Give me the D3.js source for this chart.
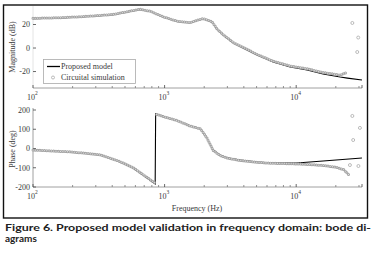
<!DOCTYPE html>
<html>
<head>
<meta charset="utf-8">
<script src="https://cdn.jsdelivr.net/npm/d3@7"></script>
<style>
  body { margin: 0; background: #fff; }
  svg { display: block; }
  .ax text { font-family: "Liberation Serif", serif; font-size: 8px; fill: #3a3a3a; }
</style>
</head>
<body>
<svg id="chart" width="379" height="254"></svg>
<script>
// magnitude plot (Hz, dB)
const freqMag = [100, 160, 228, 300, 406, 546, 652, 777, 975, 1245, 1563, 1963, 2298, 2500, 2786, 3320, 3950, 5050, 6680, 9000, 12100, 16000, 21600, 24500, 31600]
const magModel = [25, 25.5, 26.4, 27.3, 28.4, 31.2, 32.9, 31.2, 26.4, 22.7, 21.5, 25, 22, 16, 11, 4.3, 0, -6, -11.9, -16.2, -18.7, -22.1, -24.7, -25.6, -27.2]
const freqMagSim = [100, 160, 228, 300, 406, 546, 652, 777, 975, 1245, 1563, 1963, 2298, 2500, 2786, 3320, 3950, 5050, 6680, 9000, 12100, 16000, 21600, 24500]
const magSim = [25.3, 25.8, 26.6, 27.5, 28.6, 31.4, 33, 31.3, 26.6, 22.9, 21.7, 25.2, 22.3, 16.3, 11.4, 4.8, 0.6, -5.4, -11.2, -15.2, -17.6, -20.8, -23, -20.5]
const freqMagOut = [26700, 29600, 29100]
const magOut = [21.3, 8.9, -3.4]

// phase plot (Hz, deg)
const freqPh = [100, 200, 324, 459, 576, 736, 848, 855, 1000, 1250, 1560, 1860, 1960, 2100, 2340, 2640, 3000, 3750, 5040, 6680, 10100, 16000, 31600]
const phModel = [-8, -18, -34, -70, -101, -153, -184, 180, 165, 146, 118, 104, 85, 55, -8, -34, -48, -60, -70, -75, -75, -65, -49]
const freqPhSim = [100, 200, 324, 459, 576, 736, 848, 870, 1000, 1250, 1560, 1860, 1960, 2100, 2340, 2640, 3000, 3750, 5040, 6680, 10100, 13000, 16000, 20000, 23000, 25000]
const phSim = [-8, -18, -33, -68, -99, -150, -180, 177, 164, 145, 117, 103, 84, 54, -10, -36, -50, -62, -72, -77, -80, -84, -88, -97, -110, -135]
const freqPhOut = [26700, 30500, 27100, 25600, 29700]
const phOut = [169, 107, 44, -86, -91]

const magTicks = [-20, 0, 20]
const phTicks = [-200, -100, 0, 100, 200]
const decades = [100, 1000, 10000]
const legendLabels = ['Proposed model', 'Circuital simulation']
const caption = ['Figure 6. Proposed model validation in frequency domain: bode di-', 'agrams']

const svg = d3.select('#chart')
const left = 33, right = 362

// outer frame
svg.append('rect').attr('x', 3.5).attr('y', 5).attr('width', 364).attr('height', 213)
  .attr('fill', 'none').attr('stroke', '#111').attr('stroke-width', 1.4)

const xScale = d3.scaleLog().domain([100, Math.pow(10, 4.5)]).range([left, right])

function drawPanel(cfg) {
  const g = svg.append('g').attr('class', 'ax')
  const y = cfg.yScale
  const bottom = y.range()[0]

  // axes lines
  g.append('line').attr('x1', left).attr('x2', left).attr('y1', cfg.yTop).attr('y2', bottom)
    .attr('stroke', cfg.yAxisColor).attr('stroke-width', 0.8)
  g.append('line').attr('x1', left).attr('x2', right).attr('y1', bottom).attr('y2', bottom)
    .attr('stroke', '#888').attr('stroke-width', 0.8)

  // x ticks: decades and minors
  let minors = []
  for (let d of decades) {
    for (let k = 2; k <= 9; k++) {
      if (d * k <= xScale.domain()[1]) minors.push(d * k)
    }
  }
  g.selectAll('.minor').data(minors).join('line').attr('class', 'minor')
    .attr('x1', d => xScale(d)).attr('x2', d => xScale(d))
    .attr('y1', bottom).attr('y2', bottom - 2).attr('stroke', '#777').attr('stroke-width', 0.8)
  g.selectAll('.major').data(decades.concat([xScale.domain()[1]])).join('line').attr('class', 'major')
    .attr('x1', d => xScale(d)).attr('x2', d => xScale(d))
    .attr('y1', bottom).attr('y2', bottom - 3).attr('stroke', '#444').attr('stroke-width', 0.8)

  const lab = g.selectAll('.xlab').data(decades).join('text').attr('class', 'xlab')
    .attr('x', d => xScale(d) - 6).attr('y', bottom + 12)
  lab.append('tspan').text('10')
  lab.append('tspan').attr('dy', -5).attr('font-size', 5.5).text(d => Math.round(Math.log10(d)))

  // y ticks
  g.selectAll('.ytick').data(cfg.ticks).join('line').attr('class', 'ytick')
    .attr('x1', left).attr('x2', left + 3).attr('y1', d => y(d)).attr('y2', d => y(d))
    .attr('stroke', '#444').attr('stroke-width', 0.8)
  g.selectAll('.ylab').data(cfg.ticks).join('text').attr('class', 'ylab')
    .attr('x', left - 3).attr('y', d => y(d)).attr('dy', '0.35em').attr('text-anchor', 'end')
    .text(d => d)

  g.append('text').attr('transform', `translate(12,${cfg.titleY}) rotate(-90)`)
    .attr('text-anchor', 'middle').attr('dy', '0.35em').attr('font-size', 8.5).text(cfg.title)

  // model line
  const line = d3.line().x(d => xScale(d[0])).y(d => y(d[1]))
  const modelPts = cfg.freq.map((f, i) => [f, cfg.model[i]])
  g.append('path').attr('d', line(modelPts)).attr('fill', 'none')
    .attr('stroke', '#000').attr('stroke-width', 1.1)

  // simulation markers, split where phase wraps
  let segs = [[]]
  cfg.freqSim.forEach((f, i) => {
    const cur = segs[segs.length - 1]
    if (cur.length && Math.abs(cfg.sim[i] - cur[cur.length - 1][1]) > 180) segs.push([])
    segs[segs.length - 1].push([f, cfg.sim[i]])
  })
  for (let s of segs) {
    g.append('path').attr('d', line(s)).attr('fill', 'none')
      .attr('stroke', '#a4a4a4').attr('stroke-width', 3).attr('stroke-linecap', 'round')
      .attr('stroke-dasharray', '0 2.3')
    g.append('path').attr('d', line(s)).attr('fill', 'none')
      .attr('stroke', '#ececec').attr('stroke-width', 1.2).attr('stroke-linecap', 'round')
      .attr('stroke-dasharray', '0 2.3').attr('opacity', 0.8)
  }
  g.selectAll('.out').data(cfg.freqOut.map((f, i) => [f, cfg.out[i]])).join('circle').attr('class', 'out')
    .attr('cx', d => xScale(d[0])).attr('cy', d => y(d[1])).attr('r', 1.5)
    .attr('fill', 'none').attr('stroke', '#aaa').attr('stroke-width', 0.8)
  return g
}

const yMag = d3.scaleLinear().domain([-34, 36]).range([88, 5.7])
drawPanel({
  yScale: yMag, yTop: 6, yAxisColor: '#ddd', ticks: magTicks, title: 'Magnitude (dB)', titleY: 47,
  freq: freqMag, model: magModel, freqSim: freqMagSim, sim: magSim, freqOut: freqMagOut, out: magOut
})

const yPh = d3.scaleLinear().domain([-200, 200]).range([187, 110])
drawPanel({
  yScale: yPh, yTop: 108, yAxisColor: '#888', ticks: phTicks, title: 'Phase (deg)', titleY: 149,
  freq: freqPh, model: phModel, freqSim: freqPhSim, sim: phSim, freqOut: freqPhOut, out: phOut
})

svg.append('text').attr('x', 197).attr('y', 211).attr('text-anchor', 'middle')
  .attr('font-family', 'Liberation Serif, serif').attr('font-size', 8).attr('fill', '#3a3a3a')
  .text('Frequency (Hz)')

// legend
const leg = svg.append('g').attr('class', 'ax')
leg.append('rect').attr('x', 43.5).attr('y', 59.5).attr('width', 92).attr('height', 24)
  .attr('fill', '#fff').attr('stroke', '#aaa').attr('stroke-width', 0.8)
leg.append('line').attr('x1', 47).attr('x2', 60).attr('y1', 66.5).attr('y2', 66.5)
  .attr('stroke', '#000').attr('stroke-width', 1.3)
leg.append('circle').attr('cx', 53).attr('cy', 77.5).attr('r', 1.5)
  .attr('fill', 'none').attr('stroke', '#aaa').attr('stroke-width', 0.8)
leg.selectAll('.lt').data(legendLabels).join('text').attr('class', 'lt')
  .attr('x', 61).attr('y', (d, i) => 66.5 + i * 11).attr('dy', '0.35em').text(d => d)

// caption
svg.selectAll('.cap').data(caption).join('text').attr('class', 'cap')
  .attr('x', 5).attr('y', (d, i) => 231 + i * 11)
  .attr('font-family', 'Lato, sans-serif').attr('font-weight', 'bold').attr('font-size', 10)
  .attr('fill', '#222')
  .attr('textLength', (d, i) => i === 0 ? 366 : null).attr('lengthAdjust', 'spacingAndGlyphs')
  .text(d => d)
</script>
</body>
</html>
